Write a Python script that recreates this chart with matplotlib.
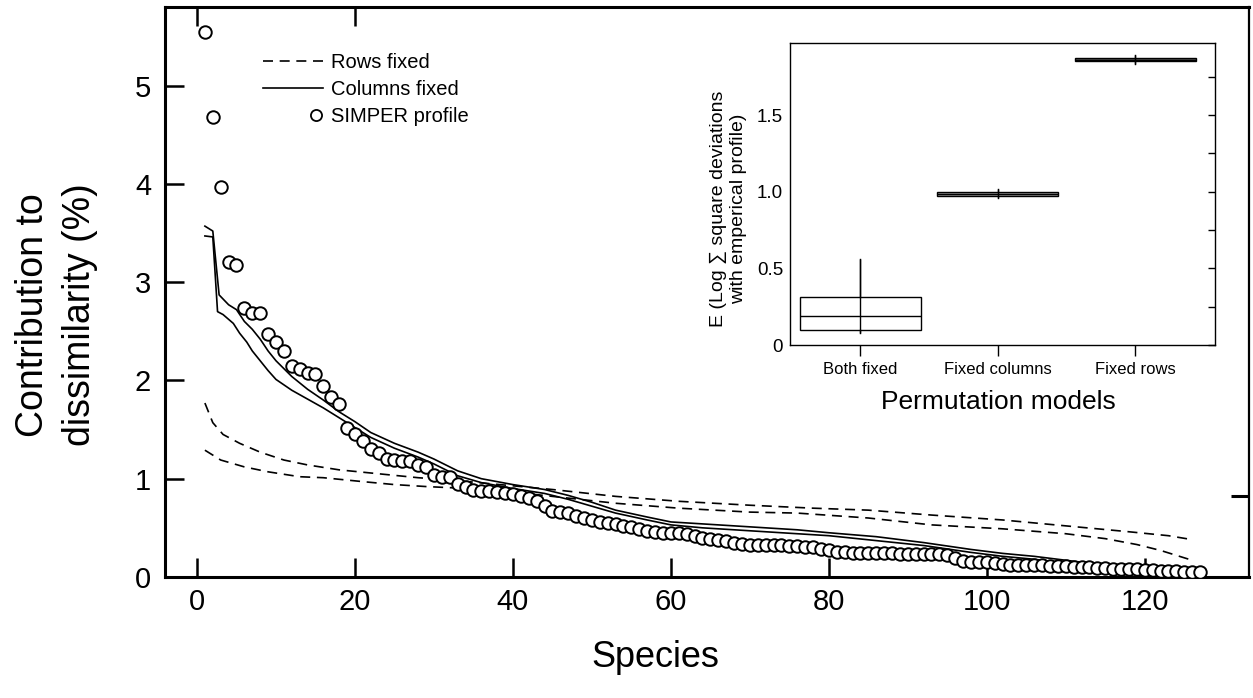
import numpy as np
import matplotlib.pyplot as plt
from matplotlib.lines import Line2D
from matplotlib.legend_handler import HandlerLine2D

plt.rcParams['font.family'] = ['Liberation Sans', 'DejaVu Sans']

# SIMPER profile, one value per species (1..127)
simper = [5.55, 4.68, 3.97, 3.21, 3.17, 2.74, 2.69, 2.69, 2.47, 2.39,
          2.30, 2.15, 2.12, 2.08, 2.07, 1.94, 1.83, 1.76, 1.52, 1.45,
          1.38, 1.30, 1.26, 1.20, 1.19, 1.18, 1.18, 1.14, 1.12, 1.04,
          1.02, 1.02, 0.95, 0.92, 0.88, 0.87, 0.87, 0.86, 0.85, 0.84,
          0.82, 0.80, 0.77, 0.72, 0.67, 0.66, 0.65, 0.62, 0.60, 0.58,
          0.56, 0.55, 0.54, 0.52, 0.51, 0.49, 0.47, 0.46, 0.45, 0.45,
          0.45, 0.44, 0.42, 0.40, 0.39, 0.38, 0.37, 0.35, 0.34, 0.33,
          0.33, 0.33, 0.33, 0.33, 0.32, 0.32, 0.31, 0.30, 0.28, 0.27,
          0.25, 0.25, 0.24, 0.24, 0.24, 0.24, 0.24, 0.24, 0.23, 0.23,
          0.23, 0.23, 0.23, 0.23, 0.22, 0.19, 0.16, 0.15, 0.15, 0.15,
          0.14, 0.13, 0.12, 0.12, 0.12, 0.12, 0.12, 0.11, 0.11, 0.11,
          0.10, 0.10, 0.10, 0.09, 0.09, 0.08, 0.08, 0.08, 0.08, 0.07,
          0.07, 0.06, 0.06, 0.06, 0.05, 0.05, 0.05]
species = np.arange(1, len(simper) + 1)

# columns fixed envelope (solid)
cols_up_x = [1, 2, 2.8, 4, 5, 6, 7, 8, 9, 10, 12, 14, 16, 18, 20, 22, 25, 28, 30, 33, 36, 40,
             44, 47, 50, 53, 57, 60, 64, 70, 76, 80, 86, 92, 98, 102, 106, 110, 114, 118, 122, 127]
cols_up_y = [3.57, 3.52, 2.87, 2.77, 2.72, 2.60, 2.52, 2.42, 2.30, 2.20, 2.04, 1.91, 1.80, 1.68, 1.58,
             1.47, 1.36, 1.27, 1.20, 1.08, 1.00, 0.94, 0.89, 0.83, 0.76, 0.68, 0.61, 0.56, 0.54,
             0.51, 0.48, 0.45, 0.41, 0.35, 0.28, 0.24, 0.21, 0.17, 0.13, 0.10, 0.07, 0.04]
cols_lo_x = [1, 2, 2.6, 3.3, 4.6, 5.4, 6.3, 7, 8, 9, 10, 12, 14, 16, 18, 20, 22, 25, 28, 30, 33, 36,
             40, 44, 47, 50, 53, 57, 60, 64, 70, 76, 80, 86, 92, 98, 102, 106, 110, 114, 118, 122, 127]
cols_lo_y = [3.47, 3.46, 2.70, 2.67, 2.58, 2.48, 2.39, 2.30, 2.20, 2.10, 2.01, 1.90, 1.81, 1.72, 1.62,
             1.52, 1.42, 1.31, 1.22, 1.15, 1.03, 0.96, 0.90, 0.85, 0.79, 0.72, 0.65, 0.58, 0.53,
             0.50, 0.47, 0.44, 0.42, 0.37, 0.32, 0.25, 0.21, 0.18, 0.14, 0.10, 0.07, 0.05, 0.03]

# rows fixed envelope (dashed)
rows_up_x = [1, 2, 3.3, 5.4, 8, 11, 14, 18, 23, 28, 33, 37, 45, 53, 61, 70, 78, 85, 93, 102,
             110, 118, 123, 126]
rows_up_y = [1.77, 1.57, 1.45, 1.36, 1.27, 1.19, 1.14, 1.09, 1.05, 1.01, 0.98, 0.95, 0.89, 0.82,
             0.77, 0.73, 0.70, 0.68, 0.63, 0.58, 0.52, 0.46, 0.42, 0.38]
rows_lo_x = [1, 3, 6, 9, 13, 16, 21, 25, 29, 37, 45, 53, 61, 70, 76, 85, 93, 102, 110, 115,
             119, 122, 126]
rows_lo_y = [1.29, 1.19, 1.12, 1.07, 1.02, 1.01, 0.97, 0.94, 0.92, 0.89, 0.82, 0.75, 0.70, 0.66,
             0.65, 0.60, 0.53, 0.49, 0.44, 0.39, 0.33, 0.27, 0.17]

# inset box plot
models = ['Both fixed', 'Fixed columns', 'Fixed rows']
box_q1 = [0.10, 0.970, 1.850]
box_med = [0.19, 0.985, 1.860]
box_q3 = [0.31, 0.995, 1.870]
box_lo = [0.08, 0.960, 1.830]
box_hi = [0.56, 1.020, 1.890]
box_fill = ['white', '#9a9a9a', '#555555']


class RightMarker(HandlerLine2D):
    def get_xdata(self, legend, xdescent, ydescent, width, height, fontsize):
        x = -xdescent + 0.88 * width
        return np.array([x, x]), np.array([x])


fig = plt.figure(figsize=(12.53, 6.98), dpi=100)
ax = fig.add_axes([0.1317, 0.1734, 0.8651, 0.8166])

dash = (0, (6, 4))
ax.plot(rows_up_x, rows_up_y, color='k', ls=dash, lw=1.2, zorder=2)
ax.plot(rows_lo_x, rows_lo_y, color='k', ls=dash, lw=1.2, zorder=2)
ax.plot(cols_up_x, cols_up_y, color='k', lw=1.2, zorder=2)
ax.plot(cols_lo_x, cols_lo_y, color='k', lw=1.2, zorder=2)
ax.plot(species, simper, ls='none', marker='o', ms=9, mfc='white', mec='k', mew=1.4, zorder=3)

ax.set_xlim(-4.05, 133.2)
ax.set_ylim(0, 5.8)
ax.set_xticks(range(0, 121, 20))
ax.set_yticks(range(6))
ax.tick_params(direction='in', length=14, width=1.8, labelsize=21)
ax.tick_params(axis='x', pad=8)
ax.tick_params(axis='y', pad=10)
for s in ['left', 'bottom', 'top']:
    ax.spines[s].set_linewidth(2.2)
ax.spines['right'].set_linewidth(1.6)

top = ax.secondary_xaxis('top')
top.set_xticks([0, 20])
top.tick_params(direction='in', length=14, width=1.8, labeltop=False)
top.spines['top'].set_visible(False)
right = ax.secondary_yaxis('right')
right.set_yticks([0.82])
right.tick_params(direction='in', length=13, width=2.2, labelright=False)
right.spines['right'].set_visible(False)

ax.set_xlabel('Species', fontsize=26)
ax.xaxis.set_label_coords(0.452, -0.11)
ax.set_ylabel('Contribution to\ndissimilarity (%)', fontsize=27, linespacing=1.4)
ax.yaxis.set_label_coords(-0.062, 0.46)

handles = [Line2D([], [], color='k', ls=dash, lw=1.2),
           Line2D([], [], color='k', lw=1.2),
           Line2D([], [], ls='none', marker='o', ms=8, mfc='white', mec='k', mew=1.3)]
ax.legend(handles, ['Rows fixed', 'Columns fixed', 'SIMPER profile'],
          loc='upper left', bbox_to_anchor=(0.09, 0.92), frameon=False,
          fontsize=14.5, handlelength=3.0, handletextpad=0.4, labelspacing=0.42,
          borderpad=0, borderaxespad=0,
          handler_map={handles[2]: RightMarker(numpoints=1)})

# inset
ins = fig.add_axes([0.6305, 0.5057, 0.3392, 0.4327])
pos = [1, 2, 3]
stats = [dict(med=m, q1=a, q3=b, whislo=lo, whishi=hi, fliers=[], label=lab)
         for m, a, b, lo, hi, lab in zip(box_med, box_q1, box_q3, box_lo, box_hi, models)]
bp = ins.bxp(stats, positions=pos, widths=0.88, patch_artist=True, showcaps=False,
             boxprops=dict(lw=1.0, edgecolor='k'), medianprops=dict(color='k', lw=1.0),
             whiskerprops=dict(color='k', lw=1.0))
for patch, fc in zip(bp['boxes'], box_fill):
    patch.set_facecolor(fc)
ins.vlines(pos, box_lo, box_hi, color='k', lw=1.0, zorder=4)

ins.set_xlim(0.49, 3.58)
ins.set_ylim(0, 1.97)
ins.set_yticks([0, 0.5, 1.0, 1.5])
ins.set_yticklabels(['0', '0.5', '1.0', '1.5'])
ins.set_yticks([0.25, 0.75, 1.25, 1.75], minor=True)
ins.tick_params(axis='y', which='both', left=False, right=True, direction='in',
                length=5, width=1.0, labelsize=13.5, pad=5)
ins.tick_params(axis='x', direction='out', length=8, width=1.0, labelsize=12, pad=4)
for s in ins.spines.values():
    s.set_linewidth(1.0)
ins.set_ylabel('E (Log \u2211 square deviations\nwith emperical profile)', fontsize=14,
               linespacing=1.3)
ins.yaxis.set_label_coords(-0.1, 0.45)
ins.set_xlabel('Permutation models', fontsize=19)
ins.xaxis.set_label_coords(0.49, -0.15)

fig.savefig('out.png', dpi=100)
